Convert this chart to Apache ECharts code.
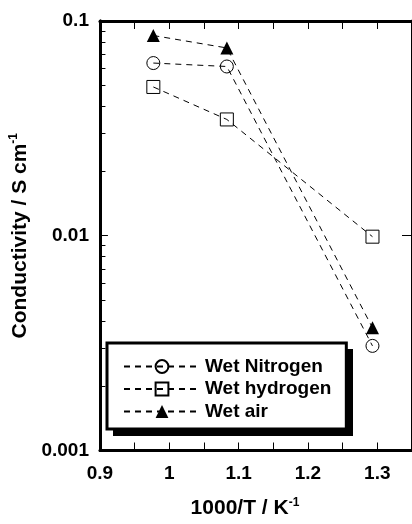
<!DOCTYPE html>
<html>
<head>
<meta charset="utf-8">
<script src="https://cdn.jsdelivr.net/npm/echarts@6/dist/echarts.min.js"></script>
<style>
html,body{margin:0;padding:0;background:#fff;}
#main{width:412px;height:524px;}
</style>
</head>
<body>
<div id="main"></div>
<script>
// ---- data ----
var seriesNames = ['Wet Nitrogen', 'Wet hydrogen', 'Wet air'];
var xValues = [0.977, 1.083, 1.293];
var wetNitrogen = [0.0637, 0.0614, 0.00307];
var wetHydrogen = [0.0493, 0.0348, 0.0099];
var wetAir = [0.0856, 0.0749, 0.00373];
var xTickLabels = [0.9, 1, 1.1, 1.2, 1.3];
var yTickLabels = [0.001, 0.01, 0.1];
var yMinorTicks = [0.002,0.003,0.004,0.005,0.006,0.007,0.008,0.009,0.02,0.03,0.04,0.05,0.06,0.07,0.08,0.09];

function pairs(xs, ys){ return xs.map(function(x,i){ return [x, ys[i]]; }); }

var FONT = 'Liberation Sans';
var chart = echarts.init(document.getElementById('main'), null, {renderer:'canvas'});

var titleRich = {
  a:{fontFamily:FONT, fontWeight:'bold', fontSize:21, color:'#000', lineHeight:24},
  b:{fontFamily:FONT, fontWeight:'bold', fontSize:12, color:'#000', verticalAlign:'top', lineHeight:24}
};

function xAx(pos, showLabel, name){
  return {
    type:'value', position:pos, min:0.9, max:1.35, interval:0.05,
    axisLine:{show:true, onZero:false, lineStyle:{color:'#000', width:3}},
    axisTick:{show:true, inside:true, length:8, lineStyle:{color:'#000', width:1}},
    axisLabel:{show:showLabel, customValues:xTickLabels, margin:14,
      fontFamily:FONT, fontWeight:'bold', fontSize:19, color:'#000'},
    splitLine:{show:false},
    name:name||'', nameLocation:'middle', nameGap:46,
    nameTextStyle:{ padding:[0,22,0,0], rich:titleRich }
  };
}
function yAx(pos, opts){
  var o = {
    type:'log', logBase:10, position:pos, min:0.001, max:0.1,
    axisLine:{show:true, onZero:false, lineStyle:{color:'#000', width:3}},
    axisTick:{show:true, inside:true, length:8, lineStyle:{color:'#000', width:1}},
    axisLabel:{show:false},
    splitLine:{show:false}
  };
  for (var k in opts) o[k] = opts[k];
  return o;
}

var option = {
  animation:false,
  backgroundColor:'#fff',
  grid:{left:98, top:21, right:-8, bottom:68, containLabel:false},
  graphic:[
    {type:'rect', left:113, top:349, shape:{width:240, height:87}, style:{fill:'#000'}, z:3}
  ],
  xAxis:[
    xAx('bottom', true, '{a|1000/T / K}{b|-1}'),
    xAx('top', false)
  ],
  yAxis:[
    yAx('left', {
      axisLabel:{show:true, customValues:yTickLabels, margin:11,
        fontFamily:FONT, fontWeight:'bold', fontSize:19, color:'#000',
        formatter:function(v){ return String(+v.toPrecision(3)); }},
      axisTick:{show:true, inside:true, length:8, customValues:yTickLabels, lineStyle:{color:'#000', width:1}},
      name:'{a|Conductivity / S cm}{b|-1}', nameLocation:'middle', nameGap:58, nameRotate:90,
      nameTextStyle:{ rich:titleRich }
    }),
    yAx('left', {
      axisTick:{show:true, inside:true, length:5.5, customValues:yMinorTicks, lineStyle:{color:'#000', width:1}}
    }),
    yAx('right', {
      axisTick:{show:true, inside:true, length:10, customValues:yTickLabels, lineStyle:{color:'#000', width:1}}
    })
  ],
  legend:{
    left:107, top:343, orient:'vertical', z:10,
    padding:[13,15,7,16],
    itemWidth:76, itemHeight:16, itemGap:1.5,
    backgroundColor:'#fff', borderColor:'#000', borderWidth:3, borderRadius:0,
    textStyle:{fontFamily:FONT, fontWeight:'bold', fontSize:19, color:'#000', lineHeight:21},
    data:seriesNames
  },
  series:[
    {name:seriesNames[0], type:'line', data:pairs(xValues, wetNitrogen),
      symbol:'circle', symbolSize:13,
      itemStyle:{color:'rgba(0,0,0,0)', borderColor:'#000', borderWidth:1},
      lineStyle:{color:'#000', width:1, type:[6,5]}},
    {name:seriesNames[1], type:'line', data:pairs(xValues, wetHydrogen),
      symbol:'rect', symbolSize:13,
      itemStyle:{color:'rgba(0,0,0,0)', borderColor:'#000', borderWidth:1},
      lineStyle:{color:'#000', width:1, type:[6,5]}},
    {name:seriesNames[2], type:'line', data:pairs(xValues, wetAir),
      symbol:'triangle', symbolSize:13,
      itemStyle:{color:'#000', borderColor:'#000', borderWidth:0},
      lineStyle:{color:'#000', width:1, type:[6,5]}}
  ]
};
chart.setOption(option);
</script>
</body>
</html>
